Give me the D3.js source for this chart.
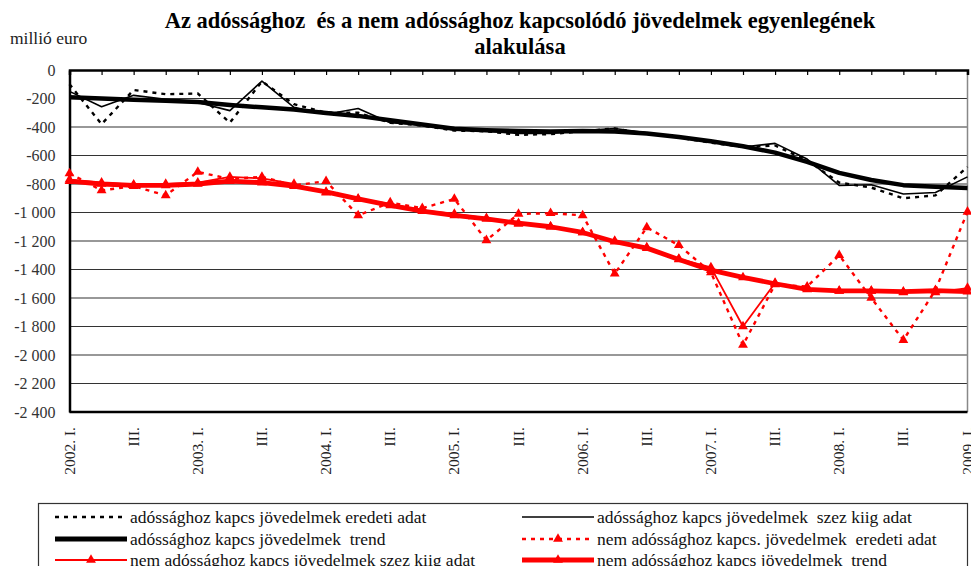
<!DOCTYPE html>
<html>
<head>
<meta charset="utf-8">
<script src="https://cdn.jsdelivr.net/npm/d3@7"></script>
</head>
<body style="margin:0; background:#fff">
<svg id="chart" width="971" height="566"></svg>
<script>
const SERIF = "Liberation Serif";

// quarters 2002 I .. 2009 I
let quarters = [];
for (let y = 2002; y <= 2009; y++) {
  ["I.", "II.", "III.", "IV."].forEach(q => quarters.push(y + ". " + q));
}
quarters = quarters.slice(0, 29);

// adóssághoz kapcsolódó jövedelmek
let debtOrig = [-100, -380, -140, -170, -165, -370, -80, -240, -300, -300, -370, -390, -425, -430, -455, -450,
                -430, -410, -450, -475, -510, -540, -530, -635, -790, -825, -900, -880, -680];
let debtSa = [-150, -258, -178, -205, -228, -285, -78, -262, -310, -270, -370, -385, -420, -430, -445, -445,
              -425, -410, -440, -470, -505, -540, -515, -625, -810, -805, -870, -860, -750];
let debtTrend = [-192, -200, -208, -215, -225, -245, -262, -278, -302, -322, -352, -382, -412, -422, -428, -432,
                 -428, -432, -445, -470, -500, -535, -580, -645, -722, -772, -808, -820, -828];

// nem adóssághoz kapcsolódó jövedelmek
let nonOrig = [-725, -845, -815, -880, -715, -765, -750, -810, -780, -1020, -930, -970, -905, -1195, -1010, -1005,
               -1020, -1430, -1105, -1230, -1420, -1930, -1505, -1520, -1300, -1600, -1895, -1545, -995];
let nonSa = [-770, -790, -805, -800, -790, -750, -760, -800, -860, -905, -940, -985, -1010, -1040, -1080, -1100,
             -1140, -1200, -1245, -1325, -1385, -1800, -1495, -1535, -1550, -1550, -1560, -1560, -1530];
let nonTrend = [-780, -800, -810, -810, -800, -780, -790, -815, -855, -905, -950, -990, -1020, -1045, -1075, -1100,
                -1140, -1205, -1250, -1330, -1405, -1455, -1500, -1540, -1550, -1550, -1555, -1548, -1555];

let yTicks = d3.range(0, -2401, -200);

let legendItems = [
  "adóssághoz kapcs jövedelmek eredeti adat",
  "adóssághoz kapcs jövedelmek  szez kiig adat",
  "adóssághoz kapcs jövedelmek  trend",
  "nem adóssághoz kapcs. jövedelmek  eredeti adat",
  "nem adóssághoz kapcs jövedelmek szez kiig adat",
  "nem adóssághoz kapcs jövedelmek  trend"
];

let svg = d3.select("#chart");
let margin = {top: 70, right: 3.5, bottom: 154, left: 69.5};
let plotWidth = 971 - margin.left - margin.right;
let plotHeight = 566 - margin.top - margin.bottom;

let x = d3.scalePoint().domain(d3.range(quarters.length)).range([0, plotWidth]);
let y = d3.scaleLinear().domain([-2400, 0]).range([plotHeight, 0]);

// title
svg.append("text").attr("x", 520).attr("y", 28).attr("text-anchor", "middle")
  .attr("font-family", SERIF).attr("font-weight", "bold").attr("font-size", 22.5)
  .style("white-space", "pre")
  .text("Az adóssághoz  és a nem adóssághoz kapcsolódó jövedelmek egyenlegének");
svg.append("text").attr("x", 520).attr("y", 54).attr("text-anchor", "middle")
  .attr("font-family", SERIF).attr("font-weight", "bold").attr("font-size", 22.5).text("alakulása");
svg.append("text").attr("x", 10).attr("y", 44).attr("font-family", SERIF).attr("font-size", 17.5)
  .attr("fill", "#222").text("millió euro");

let plot = svg.append("g").attr("transform", translate(margin.left, margin.top));

// gridlines
plot.append("g").selectAll("line").data(yTicks.slice(1, -1)).enter().append("line")
  .attr("x1", 0).attr("x2", plotWidth)
  .attr("y1", d => y(d)).attr("y2", d => y(d))
  .attr("stroke", "#333").attr("stroke-width", 1.2);
// right border
plot.append("line").attr("x1", plotWidth).attr("x2", plotWidth).attr("y1", 0).attr("y2", plotHeight)
  .attr("stroke", "#888").attr("stroke-width", 1.5);

// y axis
let yAxis = d3.axisLeft(y).tickValues(yTicks).tickSize(0).tickPadding(14)
  .tickFormat(d => d3.format(",")(d).replace(",", " ").replace("−", "-"));
let yGroup = plot.append("g").call(yAxis);
yGroup.select(".domain").attr("stroke", "#000").attr("stroke-width", 2.5);
yGroup.selectAll("text").attr("font-family", SERIF).attr("font-size", 16).attr("fill", "#333");

// bottom border
plot.append("line").attr("x1", 0).attr("x2", plotWidth).attr("y1", plotHeight).attr("y2", plotHeight)
  .attr("stroke", "#000").attr("stroke-width", 2.5);

// x axis at zero, ticks pointing down, labels at bottom
let xAxis = d3.axisBottom(x).tickSize(5).tickFormat("");
let xGroup = plot.append("g").attr("transform", translate(0, y(0))).call(xAxis);
xGroup.select(".domain").attr("stroke", "#000").attr("stroke-width", 2.5);
xGroup.selectAll(".tick line").attr("stroke", "#000").attr("stroke-width", 1.2);

let labelIdx = d3.range(0, quarters.length, 2);
plot.append("g").selectAll("text").data(labelIdx).enter().append("text")
  .attr("transform", d => translate(x(d) + 5, plotHeight + 15) + " rotate(-90)")
  .attr("text-anchor", "end").attr("font-family", SERIF).attr("font-size", 15.5).attr("fill", "#222")
  .text(d => quarters[d].replace(/^\d{4}\. (II|III|IV)\.$/, "$1."));

// series
let line = d3.line().x((d, i) => x(i)).y(d => y(d));
let tri = d3.symbol().type(d3.symbolTriangle).size(42);

let series = [
  {data: debtOrig, color: "#000", width: 2.4, dash: "4,5", marker: false},
  {data: debtSa, color: "#000", width: 1.6, dash: null, marker: false},
  {data: debtTrend, color: "#000", width: 4.5, dash: null, marker: false},
  {data: nonOrig, color: "#ff0000", width: 2.4, dash: "4,5", marker: true},
  {data: nonSa, color: "#ff0000", width: 1.8, dash: null, marker: true},
  {data: nonTrend, color: "#ff0000", width: 4.8, dash: null, marker: true}
];

series.forEach(s => {
  plot.append("path").datum(s.data).attr("d", line)
    .attr("fill", "none").attr("stroke", s.color).attr("stroke-width", s.width)
    .attr("stroke-dasharray", s.dash).attr("stroke-linejoin", "round");
  if (s.marker) {
    plot.append("g").selectAll("path").data(s.data).enter().append("path")
      .attr("d", tri).attr("fill", s.color)
      .attr("transform", (d, i) => translate(x(i), y(d)));
  }
});

// legend
let legend = svg.append("g");
legend.append("rect").attr("x", 38.5).attr("y", 503.5).attr("width", 929).attr("height", 80)
  .attr("fill", "none").attr("stroke", "#333").attr("stroke-width", 1.2);
let cols = [55, 522];
let rows = [517, 539, 560];
series.forEach((s, i) => {
  let lx = cols[i % 2], ly = rows[Math.floor(i / 2)];
  legend.append("line").attr("x1", lx).attr("x2", lx + 72).attr("y1", ly).attr("y2", ly)
    .attr("stroke", s.color).attr("stroke-width", s.width > 4 ? 5 : s.width)
    .attr("stroke-dasharray", s.dash);
  if (s.marker) {
    legend.append("path").attr("d", tri).attr("fill", s.color)
      .attr("transform", translate(lx + 36, ly));
  }
  legend.append("text").attr("x", lx + 75).attr("y", ly + 5.5).attr("font-family", SERIF)
    .attr("font-size", 17.5).attr("fill", "#111").style("white-space", "pre").text(legendItems[i]);
});

function translate(x, y) {
  return 'translate(' + x + ',' + y + ')';
}
</script>
</body>
</html>
